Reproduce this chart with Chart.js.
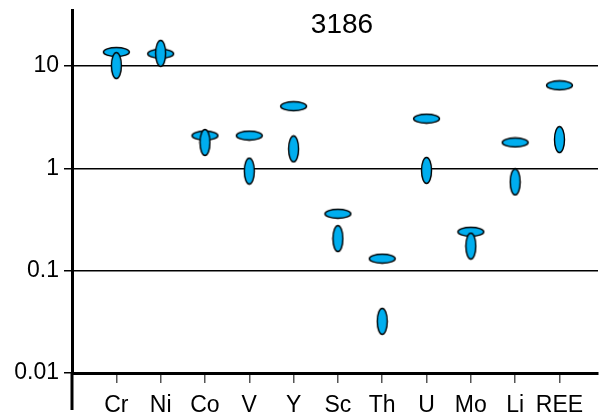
<!DOCTYPE html>
<html>
<head>
<meta charset="utf-8">
<script src="https://cdn.jsdelivr.net/npm/chart.js@4"></script>
<style>
  html, body { margin: 0; padding: 0; background: #fff; }
  #wrap { width: 603px; height: 416px; }
</style>
</head>
<body>
<div id="wrap"><canvas id="TraceChart"></canvas></div>
<script>
"use strict";

var elements = ["Cr", "Ni", "Co", "V", "Y", "Sc", "Th", "U", "Mo", "Li", "REE"];
var horizValues = [13.7, 13.2, 2.09, 2.09, 4.05, 0.36, 0.131, 3.06, 0.24, 1.79, 6.48];
var vertValues = [10.1, 13.3, 1.79, 0.94, 1.55, 0.206, 0.032, 0.955, 0.174, 0.736, 1.91];
var yTicks = [0.01, 0.1, 1, 10];
var title = "3186";

var blue = "#00AEEF";

// ellipse marker drawn once on a small canvas
function ellipse(w, h) {
	var c = document.createElement("canvas");
	c.width = w + 3;
	c.height = h + 3;
	var g = c.getContext("2d");
	g.beginPath();
	g.ellipse(c.width / 2, c.height / 2, w / 2, h / 2, 0, 0, Math.PI * 2);
	g.fillStyle = blue;
	g.fill();
	g.lineWidth = 1.4;
	g.strokeStyle = "#000";
	g.stroke();
	return c;
}

function toPoints(values) {
	return values.map(function(v, i) { return { x: i, y: v }; });
}

var extras = {
	id: "extras",
	afterDraw: function(chart) {
		var ctx = chart.ctx, area = chart.chartArea;
		ctx.save();
		// y axis runs on below the x axis
		ctx.beginPath();
		ctx.moveTo(area.left, area.bottom);
		ctx.lineTo(area.left, 410);
		ctx.lineWidth = 3;
		ctx.strokeStyle = "#000";
		ctx.stroke();
		ctx.fillStyle = "#000";
		ctx.font = "28px 'Liberation Sans', Arial, sans-serif";
		ctx.textAlign = "center";
		ctx.textBaseline = "middle";
		ctx.fillText(title, 342, 25);
		ctx.restore();
	}
};

var ctx = document.getElementById("TraceChart").getContext("2d");
var myChart = new Chart(ctx, {
	type: "scatter",
	data: {
		datasets: [
			{
				label: "vertical",
				data: toPoints(vertValues),
				pointStyle: ellipse(10, 26),
				order: 0
			},
			{
				label: "horizontal",
				data: toPoints(horizValues),
				pointStyle: ellipse(26, 9),
				order: 1
			}
		]
	},
	options: {
		responsive: true,
		maintainAspectRatio: false,
		animation: false,
		events: [],
		layout: { padding: { top: 10, right: 0, bottom: 0, left: 0 } },
		plugins: {
			legend: { display: false },
			tooltip: { enabled: false }
		},
		scales: {
			x: {
				type: "linear",
				min: -1,
				max: 10.87,
				afterBuildTicks: function(scale) {
					scale.ticks = elements.map(function(e, i) { return { value: i }; });
				},
				afterFit: function(scale) { scale.height = 43; },
				border: { display: true, color: "#000", width: 3 },
				grid: { drawOnChartArea: false, drawTicks: true, tickLength: 10, color: "#555", lineWidth: 1.5 },
				ticks: {
					color: "#000",
					padding: 9,
					maxRotation: 0,
					autoSkip: false,
					font: { family: "'Liberation Sans', Arial, sans-serif", size: 23 },
					callback: function(v) { return elements[v]; }
				}
			},
			y: {
				type: "logarithmic",
				min: 0.01,
				max: 35.3,
				afterBuildTicks: function(scale) {
					scale.ticks = yTicks.map(function(v) { return { value: v }; });
				},
				afterFit: function(scale) {
					scale.width = 72;
					scale.paddingTop = 0;
					scale.paddingBottom = 0;
				},
				border: { display: true, color: "#000", width: 3 },
				grid: { color: "#000", lineWidth: 1.5, drawTicks: true, tickLength: 8 },
				ticks: {
					color: "#000",
					padding: 5,
					font: { family: "'Liberation Sans', Arial, sans-serif", size: 23 },
					callback: function(v) { return String(v); }
				}
			}
		}
	},
	plugins: [extras]
});
</script>
</body>
</html>
